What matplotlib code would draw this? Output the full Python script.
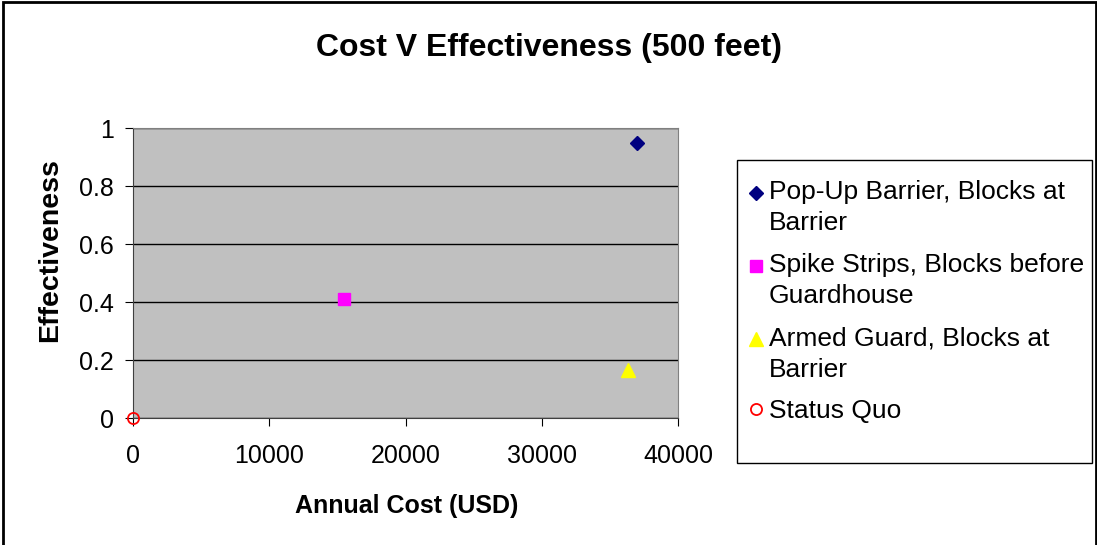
import matplotlib
matplotlib.use("Agg")
import matplotlib.pyplot as plt
from matplotlib.patches import Rectangle
from matplotlib.legend_handler import HandlerLine2D

plt.rcParams['font.family'] = ['Liberation Sans', 'DejaVu Sans']

# data
labels = ["Pop-Up Barrier, Blocks at\nBarrier",
          "Spike Strips, Blocks before\nGuardhouse",
          "Armed Guard, Blocks at\nBarrier",
          "Status Quo"]
annual_cost = [37000, 15500, 36300, 0]
effectiveness = [0.95, 0.41, 0.165, 0.0]

markers = ['D', 's', '^', 'o']
colors = ['#000080', '#FF00FF', '#FFFF00', '#FF0000']
sizes = [7, 8, 10, 8]


class FirstLineHandler(HandlerLine2D):
    # puts the legend marker next to the first line of a two-line label
    def create_artists(self, legend, orig_handle, xdescent, ydescent, width, height,
                       fontsize, trans):
        return super().create_artists(legend, orig_handle, xdescent, ydescent - 22,
                                      width, height, fontsize, trans)


W, H = 1097, 545
fig = plt.figure(figsize=(W / 100, H / 100), dpi=100)
fig.patch.set_facecolor('white')

# outer chart border
fig.patches.append(Rectangle((0.003, -0.01), 0.996, 1.006, transform=fig.transFigure,
                             fill=False, edgecolor='black', linewidth=2))

ax = fig.add_axes([133 / W, 1 - 418 / H, (678 - 133) / W, (418 - 128) / H])
ax.set_facecolor('#C0C0C0')

handles = []
for i in range(len(labels)):
    if i == 3:
        h, = ax.plot(annual_cost[i], effectiveness[i], linestyle='none', marker=markers[i],
                     markersize=sizes[i], markerfacecolor='none', markeredgecolor=colors[i],
                     markeredgewidth=1.3, clip_on=False, zorder=5, label=labels[i])
    else:
        h, = ax.plot(annual_cost[i], effectiveness[i], linestyle='none', marker=markers[i],
                     markersize=sizes[i], color=colors[i], clip_on=False, zorder=5,
                     label=labels[i])
    handles.append(h)

ax.set_xlim(0, 40000)
ax.set_ylim(0, 1)
ax.set_xticks([0, 10000, 20000, 30000, 40000])
ax.set_yticks([0, 0.2, 0.4, 0.6, 0.8, 1])
ax.set_yticklabels(['0', '0.2', '0.4', '0.6', '0.8', '1'])
ax.yaxis.grid(True, color='black', linewidth=1)
ax.set_axisbelow(True)
ax.tick_params(axis='both', labelsize=18, length=6, color='black', direction='out')
ax.tick_params(axis='x', pad=13)
ax.tick_params(axis='y', pad=8)
for s in ['top', 'right']:
    ax.spines[s].set_color('#808080')
for s in ['left', 'bottom']:
    ax.spines[s].set_color('#404040')

fig.text(407 / W, 1 - 506 / H, 'Annual Cost (USD)', ha='center', va='center',
         fontsize=18, fontweight='bold')
fig.text(50 / W, 1 - 250 / H, 'Effectiveness', ha='center', va='center',
         rotation=90, fontsize=20.5, fontweight='bold')

fig.text(0.5, 1 - 48 / H, 'Cost V Effectiveness (500 feet)', ha='center', va='center',
         fontsize=23, fontweight='bold')

# legend box
fig.patches.append(Rectangle((737 / W, 1 - 463 / H), (1092 - 737) / W, (463 - 160) / H,
                             transform=fig.transFigure, fill=False, edgecolor='black',
                             linewidth=1))
hmap = {h: FirstLineHandler() for h in handles[:3]}
leg = fig.legend(handles=handles, loc='upper left', bbox_to_anchor=(748 / W, 1 - 180 / H),
                 frameon=False, fontsize=19, handlelength=0.6, handletextpad=0.2,
                 labelspacing=0.68, borderaxespad=0, borderpad=0, handler_map=hmap)
for t in leg.get_texts():
    t.set_linespacing(1.38)

fig.savefig('out.png', dpi=100)
